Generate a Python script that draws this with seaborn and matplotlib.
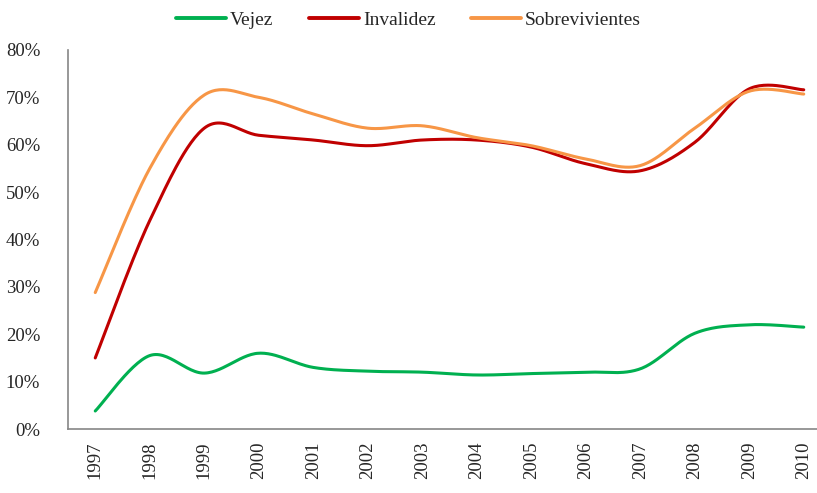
import numpy as np
import pandas as pd
import matplotlib.pyplot as plt
import seaborn as sns
from matplotlib.ticker import PercentFormatter

years = list(range(1997, 2011))
vejez = [0.038, 0.155, 0.118, 0.160, 0.130, 0.122, 0.120, 0.114, 0.117, 0.120, 0.127, 0.202, 0.220, 0.215]
invalidez = [0.150, 0.440, 0.635, 0.620, 0.610, 0.598, 0.610, 0.610, 0.595, 0.560, 0.545, 0.605, 0.718, 0.716]
sobrevivientes = [0.288, 0.550, 0.705, 0.700, 0.665, 0.635, 0.640, 0.615, 0.598, 0.570, 0.556, 0.635, 0.713, 0.707]

series_names = ["Vejez", "Invalidez", "Sobrevivientes"]
colors = ["#00B050", "#C00000", "#F79646"]


def smooth(x, y, n=30):
    # Excel-style smoothed line (Catmull-Rom as cubic Bezier)
    x = np.asarray(x, float)
    y = np.asarray(y, float)
    px = np.concatenate([[x[0]], x, [x[-1]]])
    py = np.concatenate([[y[0]], y, [y[-1]]])
    t = np.linspace(0, 1, n)
    xs, ys = [], []
    for i in range(1, len(px) - 2):
        p0 = np.array([px[i], py[i]])
        p3 = np.array([px[i + 1], py[i + 1]])
        c1 = p0 + (np.array([px[i + 1], py[i + 1]]) - np.array([px[i - 1], py[i - 1]])) / 6
        c2 = p3 - (np.array([px[i + 2], py[i + 2]]) - np.array([px[i], py[i]])) / 6
        b = ((1 - t) ** 3)[:, None] * p0 + (3 * (1 - t) ** 2 * t)[:, None] * c1 \
            + (3 * (1 - t) * t ** 2)[:, None] * c2 + (t ** 3)[:, None] * p3
        xs.extend(b[:, 0])
        ys.extend(b[:, 1])
    return xs, ys


frames = []
for name, vals in zip(series_names, [vejez, invalidez, sobrevivientes]):
    sx, sy = smooth(years, vals)
    frames.append(pd.DataFrame({"year": sx, "value": sy, "serie": name}))
df = pd.concat(frames)

sns.set_style("white")
plt.rcParams["font.family"] = ["Liberation Serif", "DejaVu Serif"]

fig = plt.figure(figsize=(8.17, 4.93), dpi=100)
ax = fig.add_axes([68 / 817, 1 - 429 / 493, (831 - 68) / 817, (429 - 50) / 493])

sns.lineplot(data=df, x="year", y="value", hue="serie", palette=colors,
             sort=False, estimator=None, units="serie", linewidth=2.2, ax=ax)

ax.set_xlim(1996.5, 2010.5)
ax.set_ylim(0, 0.8)
ax.set_xticks(years)
ax.set_xticklabels([str(y) for y in years], rotation=90, fontsize=13.5)
ax.set_yticks(np.arange(0, 0.81, 0.1))
ax.yaxis.set_major_formatter(PercentFormatter(1.0, decimals=0))
ax.tick_params(axis="y", labelsize=13.5, length=0, pad=20)
ax.tick_params(axis="x", length=0, pad=9)
ax.set_xlabel("")
ax.set_ylabel("")

for s in ["top", "right"]:
    ax.spines[s].set_visible(False)
for s in ["left", "bottom"]:
    ax.spines[s].set_color("#868686")
    ax.spines[s].set_linewidth(1.2)

ax.legend_.remove()
handles = [plt.Line2D([], [], color=c, linewidth=2.8) for c in colors]
fig.legend(handles, series_names, loc="center", bbox_to_anchor=(0.5, 1 - 20 / 493),
           ncol=3, frameon=False, fontsize=14, handlelength=2.6,
           handletextpad=0.2, columnspacing=1.8)

fig.savefig("out.png", dpi=100)
